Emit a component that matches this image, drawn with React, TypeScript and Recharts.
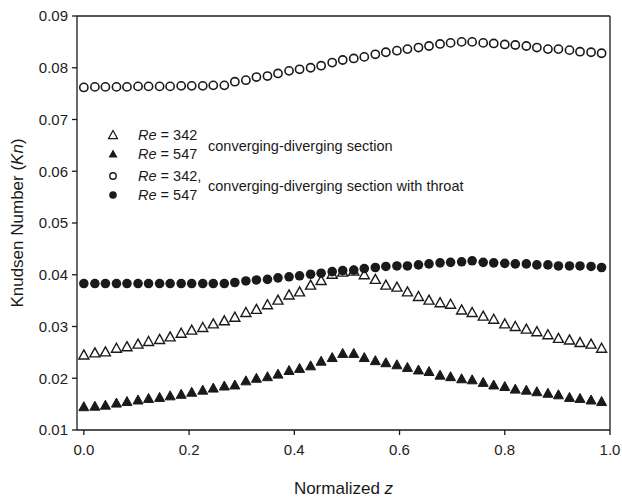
import React from "react";
import {
  Label,
  ReferenceLine,
  Scatter,
  ScatterChart,
  XAxis,
  YAxis,
} from "recharts";

// normalized z positions (49 stations)
const zValues = [
  0, 0.021, 0.041, 0.062, 0.082, 0.103, 0.123, 0.144, 0.164, 0.185,
  0.205, 0.226, 0.246, 0.267, 0.287, 0.308, 0.328, 0.349, 0.369, 0.39,
  0.41, 0.431, 0.451, 0.472, 0.492, 0.513, 0.533, 0.554, 0.574, 0.595,
  0.615, 0.636, 0.656, 0.677, 0.697, 0.718, 0.738, 0.759, 0.779, 0.8,
  0.82, 0.841, 0.861, 0.882, 0.902, 0.923, 0.943, 0.964, 0.984,
];

// converging-diverging section, Re = 342 (open triangles)
const knCd342 = [
  0.0245, 0.0249, 0.0251, 0.0258, 0.0261, 0.0266, 0.0271, 0.0275, 0.028, 0.0287,
  0.0293, 0.0298, 0.0305, 0.0311, 0.0318, 0.0327, 0.0333, 0.0342, 0.0351, 0.0361,
  0.0367, 0.038, 0.0389, 0.0401, 0.0405, 0.0407, 0.04, 0.0391, 0.038, 0.0376,
  0.0367, 0.0358, 0.0351, 0.0346, 0.0343, 0.0332, 0.0327, 0.032, 0.0314, 0.0305,
  0.03, 0.0295, 0.029, 0.0284, 0.0277, 0.0274, 0.0269, 0.0266, 0.0258,
];

// converging-diverging section, Re = 547 (filled triangles)
const knCd547 = [
  0.0145, 0.0146, 0.0148, 0.0152, 0.0155, 0.0158, 0.0161, 0.0163, 0.0166, 0.0169,
  0.0173, 0.0177, 0.0181, 0.0185, 0.0187, 0.0195, 0.02, 0.0203, 0.0208, 0.0215,
  0.0219, 0.0224, 0.0233, 0.024, 0.0248, 0.0248, 0.024, 0.0234, 0.023, 0.0226,
  0.0221, 0.0216, 0.0213, 0.0206, 0.0203, 0.0199, 0.0197, 0.0192, 0.0187, 0.0184,
  0.0179, 0.0177, 0.0174, 0.0171, 0.0168, 0.0163, 0.0161, 0.0158, 0.0155,
];

// section with throat, Re = 342 (open circles)
const knThroat342 = [
  0.0762, 0.0763, 0.0763, 0.0763, 0.0763, 0.0764, 0.0764, 0.0764, 0.0764, 0.0765,
  0.0765, 0.0765, 0.0766, 0.0766, 0.0773, 0.0776, 0.0782, 0.0784, 0.0789, 0.0794,
  0.0797, 0.08, 0.0804, 0.081, 0.0815, 0.0818, 0.0821, 0.0826, 0.083, 0.0833,
  0.0836, 0.0839, 0.0842, 0.0846, 0.0848, 0.085, 0.085, 0.0848, 0.0847, 0.0845,
  0.0844, 0.0842, 0.0839, 0.0836, 0.0836, 0.0834, 0.0831, 0.083, 0.0828,
];

// section with throat, Re = 547 (filled circles)
const knThroat547 = [
  0.0383, 0.0383, 0.0383, 0.0383, 0.0383, 0.0383, 0.0383, 0.0383, 0.0383, 0.0383,
  0.0383, 0.0383, 0.0383, 0.0383, 0.0385, 0.0388, 0.039, 0.0391, 0.0394, 0.0396,
  0.0398, 0.0401, 0.0403, 0.0406, 0.0408, 0.0409, 0.0412, 0.0414, 0.0416, 0.0417,
  0.0417, 0.0419, 0.0421, 0.0423, 0.0424, 0.0425, 0.0427, 0.0424, 0.0423, 0.0422,
  0.0421, 0.0421, 0.0419, 0.0419, 0.0417, 0.0417, 0.0417, 0.0416, 0.0414,
];

const xTicks = [0, 0.2, 0.4, 0.6, 0.8, 1.0];
const yTicks = [0.01, 0.02, 0.03, 0.04, 0.05, 0.06, 0.07, 0.08, 0.09];

const toRows = (vals: number[]) => zValues.map((z, i) => ({ z, kn: vals[i] }));

const FONT = "'Liberation Sans', Arial, sans-serif";
const INK = "#1a1a1a";

const triPoints = (cx: number, cy: number, s: number) =>
  `${cx},${cy - s} ${cx + s},${cy + s * 0.8} ${cx - s},${cy + s * 0.8}`;

const OpenTri = (p: any) => (
  <polygon points={triPoints(p.cx, p.cy, 5)} fill="#fff" stroke={INK} strokeWidth={1.4} />
);
const FilledTri = (p: any) => (
  <polygon points={triPoints(p.cx, p.cy, 5)} fill={INK} stroke={INK} strokeWidth={1} />
);
const OpenDot = (p: any) => (
  <circle cx={p.cx} cy={p.cy} r={4.1} fill="#fff" stroke={INK} strokeWidth={1.6} />
);
const FilledDot = (p: any) => <circle cx={p.cx} cy={p.cy} r={4.8} fill={INK} />;

const XTitle = (props: any) => {
  const vb = props.viewBox || { x: 77, y: 430, width: 533 };
  return (
    <text x={vb.x + vb.width / 2} y={vb.y + 64} textAnchor="middle" fontSize={17} fontFamily={FONT} fill={INK}>
      Normalized <tspan fontStyle="italic">z</tspan>
    </text>
  );
};

const YTitle = () => (
  <text x={23} y={223} transform="rotate(-90, 23, 223)" textAnchor="middle" fontSize={17} fontFamily={FONT} fill={INK}>
    Knudsen Number (<tspan fontStyle="italic">Kn</tspan>)
  </text>
);

function LegendBox() {
  const rows = [
    { y: 135, label: "342", shape: "openTri" },
    { y: 154, label: "547", shape: "filledTri" },
    { y: 176, label: "342,", shape: "openDot" },
    { y: 195, label: "547", shape: "filledDot" },
  ];
  return (
    <svg width={622} height={502} style={{ position: "absolute", left: 0, top: 0, pointerEvents: "none" }}>
      {rows.map((r) => (
        <g key={r.y}>
          {r.shape === "openTri" && <polygon points={triPoints(113, r.y, 4.5)} fill="#fff" stroke={INK} strokeWidth={1.2} />}
          {r.shape === "filledTri" && <polygon points={triPoints(113, r.y, 4.5)} fill={INK} />}
          {r.shape === "openDot" && <circle cx={113} cy={r.y} r={3.2} fill="#fff" stroke={INK} strokeWidth={1.4} />}
          {r.shape === "filledDot" && <circle cx={113} cy={r.y} r={3.8} fill={INK} />}
          <text x={138} y={r.y} dy="0.35em" fontSize={14.5} fontFamily={FONT} fill={INK}>
            <tspan fontStyle="italic">Re</tspan> = {r.label}
          </text>
        </g>
      ))}
      <text x={208} y={146} dy="0.35em" fontSize={14.5} fontFamily={FONT} fill={INK}>
        converging-diverging section
      </text>
      <text x={208} y={186} dy="0.35em" fontSize={14.5} fontFamily={FONT} fill={INK}>
        converging-diverging section with throat
      </text>
    </svg>
  );
}

export default function App() {
  const tickStyle = { fontSize: 15, fontFamily: FONT, fill: "#222" };
  return (
    <div style={{ position: "absolute", left: 0, top: 0, width: 622, height: 502, background: "#fff" }}>
      <ScatterChart width={622} height={502} margin={{ top: 16, right: 12, left: 0, bottom: 0 }}>
        <XAxis
          type="number"
          dataKey="z"
          domain={[-0.013, 1.0]}
          ticks={xTicks}
          allowDataOverflow
          tickFormatter={(v: number) => v.toFixed(1)}
          tick={tickStyle}
          tickSize={5}
          tickMargin={9}
          height={72}
          stroke={INK}
          strokeWidth={1.3}
        >
          <Label content={<XTitle />} />
        </XAxis>
        <YAxis
          type="number"
          dataKey="kn"
          domain={[0.01, 0.09]}
          ticks={yTicks}
          allowDataOverflow
          tickFormatter={(v: number) => v.toFixed(2)}
          tick={tickStyle}
          tickSize={5}
          tickMargin={4}
          width={77}
          stroke={INK}
          strokeWidth={1.3}
        >
          <Label content={<YTitle />} />
        </YAxis>
        <ReferenceLine y={0.09} stroke={INK} strokeWidth={1.3} />
        <ReferenceLine x={1.0} stroke={INK} strokeWidth={1.3} />
        <Scatter data={toRows(knThroat342)} shape={OpenDot} isAnimationActive={false} />
        <Scatter data={toRows(knCd547)} shape={FilledTri} isAnimationActive={false} />
        <Scatter data={toRows(knCd342)} shape={OpenTri} isAnimationActive={false} />
        <Scatter data={toRows(knThroat547)} shape={FilledDot} isAnimationActive={false} />
      </ScatterChart>
      <LegendBox />
    </div>
  );
}
